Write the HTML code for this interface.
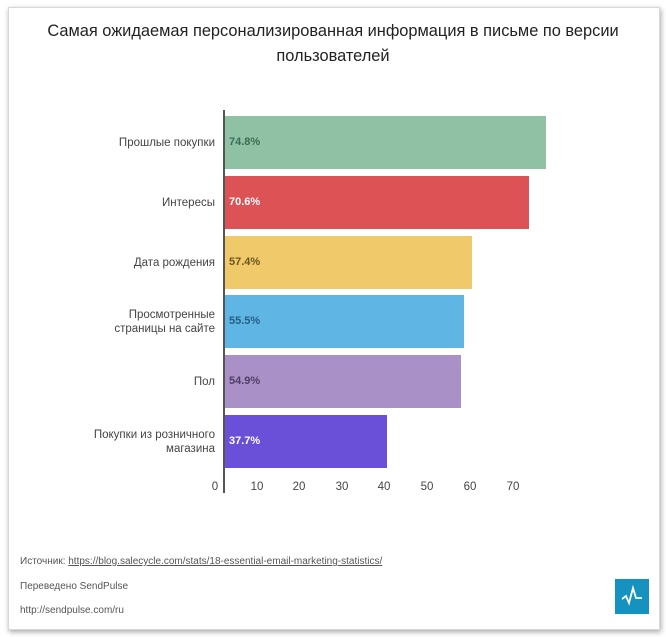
<!DOCTYPE html>
<html><head><meta charset="utf-8"><style>
body{margin:0;width:666px;height:637px;background:#fff;position:relative;overflow:hidden;font-family:"Liberation Sans","DejaVu Sans",sans-serif}
.frame{position:absolute;left:8px;top:7px;width:650px;height:621px;background:#fff;border:1px solid #d8d8d8;box-shadow:1px 2px 5px rgba(0,0,0,.35)}
.t{position:absolute;left:0;width:666px;text-align:center;font-size:16.4px;color:#222}
.bar{position:absolute;left:225px;height:53px}
.v{position:absolute;left:229px;font-size:11px;font-weight:bold}
.l{position:absolute;right:451px;font-size:11.5px;color:#444;text-align:right;line-height:14px}
.x{position:absolute;top:481px;font-size:11.5px;color:#444;width:30px;text-align:center}
.f{position:absolute;left:20px;font-size:10px;color:#555}
</style></head><body>
<div class="frame"></div>
<div class="t" style="top:22px">Самая ожидаемая персонализированная информация в письме по версии</div>
<div class="t" style="top:47px">пользователей</div>
<div style="position:absolute;left:223px;top:110px;width:2px;height:383px;background:#555"></div>
<div class="bar" style="top:116px;width:321px;background:#8fc2a4"></div>
<div class="bar" style="top:176px;width:304px;background:#dc5255"></div>
<div class="bar" style="top:236px;width:247px;background:#efc96a"></div>
<div class="bar" style="top:295px;width:239px;background:#5fb6e4"></div>
<div class="bar" style="top:355px;width:236px;background:#a991c8"></div>
<div class="bar" style="top:415px;width:162px;background:#6a4fd8"></div>
<div class="v" style="top:136px;color:#3d6a53">74.8%</div>
<div class="v" style="top:196px;color:#fff">70.6%</div>
<div class="v" style="top:256px;color:#6b5520">57.4%</div>
<div class="v" style="top:315px;color:#245e82">55.5%</div>
<div class="v" style="top:375px;color:#4e3d66">54.9%</div>
<div class="v" style="top:435px;color:#fff">37.7%</div>
<div class="l" style="top:136px">Прошлые покупки</div>
<div class="l" style="top:196px">Интересы</div>
<div class="l" style="top:256px">Дата рождения</div>
<div class="l" style="top:308px">Просмотренные<br>страницы на сайте</div>
<div class="l" style="top:375px">Пол</div>
<div class="l" style="top:428px">Покупки из розничного<br>магазина</div>
<div class="x" style="left:200px">0</div>
<div class="x" style="left:242px">10</div>
<div class="x" style="left:284px">20</div>
<div class="x" style="left:327px">30</div>
<div class="x" style="left:369px">40</div>
<div class="x" style="left:412px">50</div>
<div class="x" style="left:455px">60</div>
<div class="x" style="left:498px">70</div>
<div class="f" style="top:556px">Источник: <span style="text-decoration:underline">https://blog.salecycle.com/stats/18-essential-email-marketing-statistics/</span></div>
<div class="f" style="top:581px">Переведено SendPulse</div>
<div class="f" style="top:605px">http://sendpulse.com/ru</div>
<div style="position:absolute;left:615px;top:579px;width:34px;height:35px;background:#1592c0">
<svg width="34" height="35"><polyline points="7,20 11,17 14,24 18,9 21,19 27,19" fill="none" stroke="#fff" stroke-width="1.8"/></svg></div>
</body></html>
